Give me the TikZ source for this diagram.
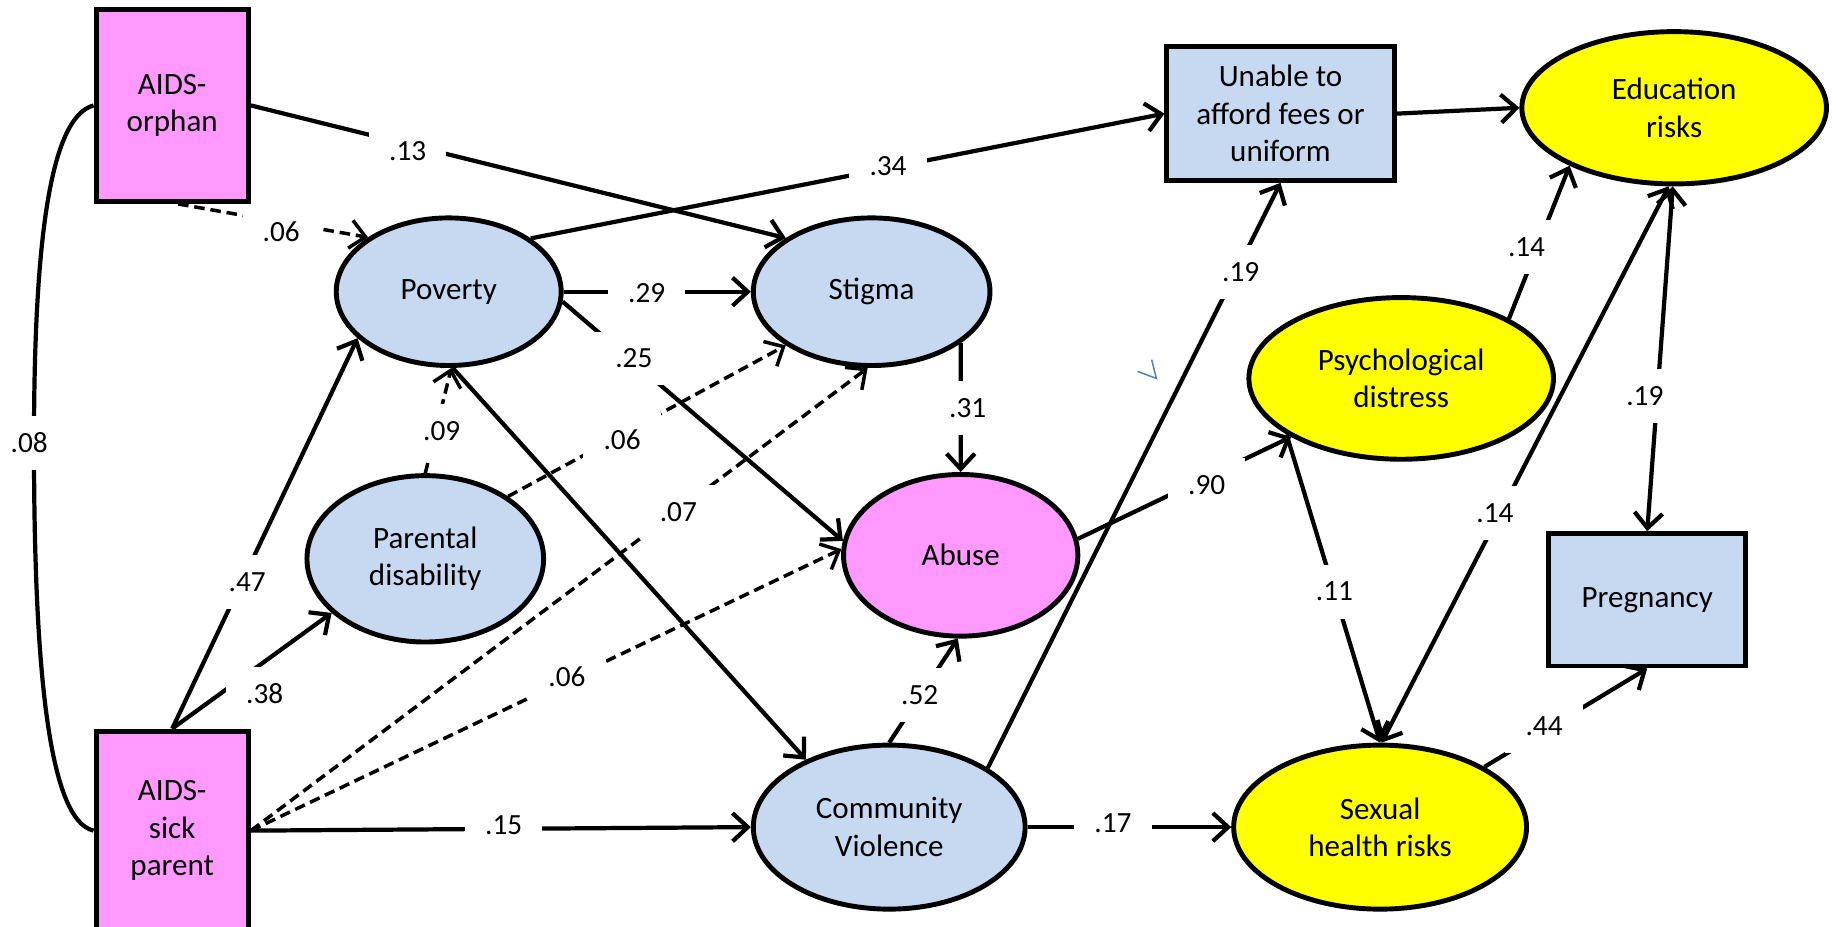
\documentclass[tikz,border=0pt]{standalone}
\usepackage{fontspec}
\setmainfont{Carlito}
\usetikzlibrary{arrows.meta,shapes.geometric}
\definecolor{pinkf}{HTML}{FF99FF}
\definecolor{bluef}{HTML}{C6D9F1}
\definecolor{yellowf}{HTML}{FFFF00}
\definecolor{markblue}{HTML}{4F81BD}
\newcommand\mynodefont{\fontsize{26.5}{32}\selectfont}
\newcommand\mylabfont{\fontsize{25}{29}\selectfont}
\begin{document}
\begin{tikzpicture}[x=1pt,y=-1pt,
  ell/.style={ellipse, draw, line width=4.2pt, inner sep=0pt, align=center, font=\mynodefont},
  boxnode/.style={rectangle, draw, line width=4.2pt, inner sep=0pt, align=center, font=\mynodefont},
  tip/.tip={Straight Barb[length=13pt,width=24pt]},
  arr/.style={line width=3.6pt, -tip},
  biarr/.style={line width=3.6pt, tip-tip},
  dsh/.style={line width=3pt, dash pattern=on 9pt off 5pt, -tip},
  plain/.style={line width=3.6pt},
  lab/.style={fill=white, inner sep=0pt, minimum width=66pt, minimum height=46pt, font=\mylabfont}]
\useasboundingbox (0,0) rectangle (1568,791);
% nodes
\node[boxnode, fill=pinkf, minimum width=130pt, minimum height=164pt] (orph) at (147,90) {AIDS-\\orphan};
\node[boxnode, fill=pinkf, minimum width=130pt, minimum height=170pt] (sick) at (147,709) {AIDS-\\sick\\parent};
\node[boxnode, fill=bluef, minimum width=194pt, minimum height=114pt] (unab) at (1093,97) {Unable to\\afford fees or\\uniform};
\node[boxnode, fill=bluef, minimum width=168pt, minimum height=113pt] (preg) at (1406,512) {Pregnancy};
\node[ell, fill=bluef, minimum width=192pt, minimum height=126pt] (pov) at (383,249) {Poverty};
\node[ell, fill=bluef, minimum width=202pt, minimum height=126pt] (stig) at (744,249) {Stigma};
\node[ell, fill=bluef, minimum width=202pt, minimum height=142pt] (par) at (363,477) {Parental\\disability};
\node[ell, fill=pinkf, minimum width=200pt, minimum height=138pt] (abu) at (820,474) {Abuse};
\node[ell, fill=bluef, minimum width=232pt, minimum height=140pt] (cv) at (759,706) {Community\\Violence};
\node[ell, fill=yellowf, minimum width=260pt, minimum height=130pt] (edu) at (1429,92) {Education\\risks};
\node[ell, fill=yellowf, minimum width=260pt, minimum height=138pt] (psy) at (1196,323) {Psychological\\distress};
\node[ell, fill=yellowf, minimum width=250pt, minimum height=140pt] (sex) at (1178,706) {Sexual\\health risks};
% connectors
\coordinate (c08) at (29,378);
\draw[plain] (orph.west) .. controls (42,100) and (29,210) .. (c08) .. controls (29,560) and (40,700) .. (sick.west);
\draw[dsh] ([xshift=5pt]orph.south) -- (pov.146);
\draw[arr] (orph.east) -- (stig.148);
\draw[arr] (sick.north) -- (pov.207);
\draw[arr] (sick.north) -- (par.210);
\draw[dsh] (sick.east) -- (stig.-93);
\draw[dsh] (sick.east) -- (abu.177);
\draw[arr] (sick.east) -- (cv.west);
\draw[dsh] (par.north) -- (pov.-88);
\draw[dsh] (par.37) -- (stig.212);
\draw[arr] (pov.east) -- (stig.west);
\draw[arr] (pov.33) -- (unab.west);
\draw[arr] (pov.-5) -- (abu.173);
\draw[arr] (pov.-87) -- (cv.141);
\draw[arr] (stig.-30) -- (abu.north);
\draw[arr] (cv.north) -- (abu.-92);
\draw[arr] (cv.31) -- (unab.south);
\draw[arr] (cv.east) -- (sex.west);
\draw[arr] (abu.8) -- (psy.208);
\draw[arr] (psy.206) -- (sex.north);
\draw[arr] (psy.29) -- (edu.209);
\draw[biarr] (sex.89) -- (edu.-94);
\draw[biarr] (edu.-91) -- (preg.north);
\draw[arr] (unab.east) -- (edu.west);
\draw[arr] (sex.30) -- (preg.south);
% labels
\node[lab] (l08) at (25,378) {.08};
\node[lab] (l13) at (348,129) {.13};
\node[lab] (l06a) at (240,198) {.06};
\node[lab] (l34) at (758,142) {.34};
\node[lab] (l29) at (552,250) {.29};
\node[lab] (l25) at (541,306) {.25};
\node[lab] (l09) at (377,368) {.09};
\node[lab] (l06b) at (531,375) {.06};
\node[lab] (l07) at (579,437) {.07};
\node[lab] (l06c) at (484,578) {.06};
\node[lab] (l47) at (211,497) {.47};
\node[lab] (l38) at (226,592) {.38};
\node[lab] (l15) at (430,704) {.15};
\node[lab] (l31) at (826,348) {.31};
\node[lab] (l52) at (785,593) {.52};
\node[lab] (l17) at (950,703) {.17};
\node[lab] (l90) at (1030,414) {.90};
\node[lab] (l19a) at (1059,232) {.19};
\node[lab] (l14a) at (1303,211) {.14};
\node[lab] (l11) at (1139,505) {.11};
\node[lab] (l14b) at (1276,438) {.14};
\node[lab] (l19b) at (1404,338) {.19};
\node[lab] (l44) at (1318,620) {.44};
% stray blue mark
\draw[markblue, line width=1.3pt] (971,317) -- (987,323) -- (983,307);
\end{tikzpicture}
\end{document}
